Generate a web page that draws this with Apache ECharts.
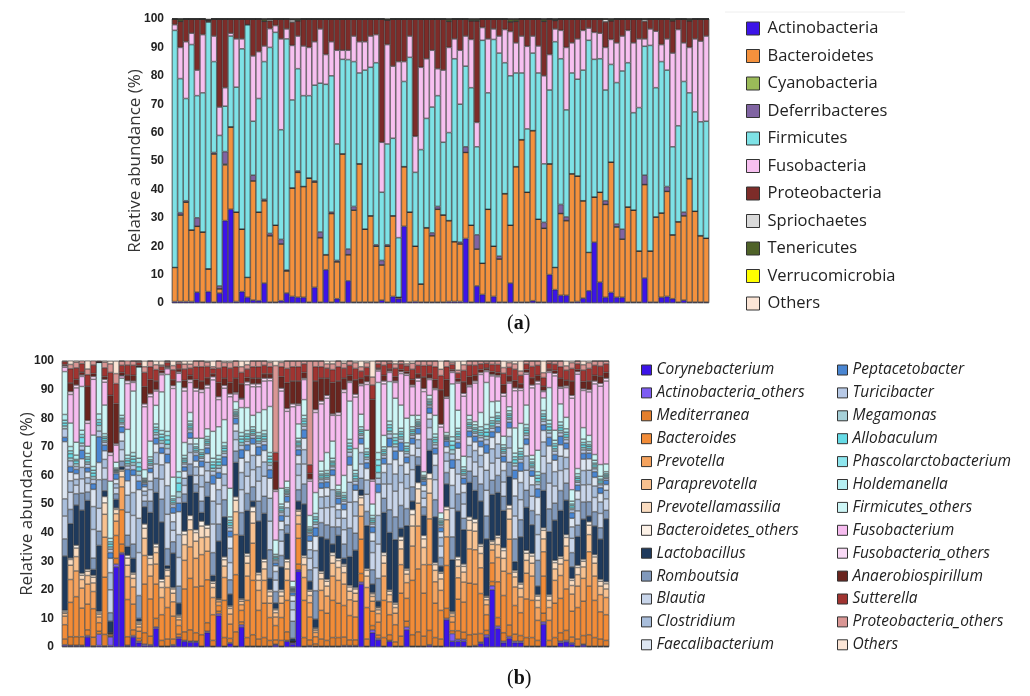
<!DOCTYPE html>
<html><head><meta charset="utf-8">
<script src="https://cdn.jsdelivr.net/npm/echarts/dist/echarts.min.js"></script>
<style>html,body{margin:0;padding:0;background:#fff}#c{width:1030px;height:696px}</style>
</head><body><div id="c"></div>
<script>
const samples = Array.from({length: 96}, (_, i) => 'S' + (i + 1));
const yTicks = [0, 10, 20, 30, 40, 50, 60, 70, 80, 90, 100];

// ---------- Panel (a): phylum level ----------
const actinobacteria = [0.5,0.5,0.5,0.5,3.8,0.3,4,0.3,3.5,29, 33,0.5,4,2,1,0.8,7,0.3,0.3,0.8, 3.5,2.3,2,2,0.3,5.5,0.3,11.7,0.3,1.5, 0.3,7.8,0.3,0.3,0.3,0.3,0.3,1,0.3,2.3, 1.5,27,0.3,0.5,0.3,0.3,0.3,0.3,0.3,0.5, 0.5,0.5,22.7,0.3,6,3,0.3,2.3,0.3,0.3, 7,0.3,0.3,0.3,0.8,0.3,0.3,10,4.7,2.7, 2.7,0.3,0.5,1.7,4.3,21.4,7.3,2,3.7,2, 2,0.3,0.3,0.3,8.8,0.3,0.3,2,2.3,1.5, 0.3,1,0.3,0.3,0.3,0.3];
const bacteroidetes = [12,30.5,35,25.2,23.2,24.7,8,52.2,1.5,19.6, 29,31.5,22,7,42,31.2,29,23.4,27.1,20, 7.8,38.2,44,39,43.7,37.1,22.7,5.3,31.2,13, 52.2,9.2,32.4,48.7,25.7,30.4,19.7,12.4,19.7,28.4, 0.5,21,31.7,19.5,6.4,26.2,23.4,32.7,30.7,28.5, 21.1,20.3,30.3,27.1,13,11,32.7,17.7,15.2,38.2, 20.4,47.7,57.2,38.7,59.9,29.2,26,39,7.8,28.8, 26.3,45.2,44.2,34.3,13.5,15.9,31.7,32.7,45.9,24.8, 20.5,33.5,32.4,18,32.9,18,30,29.7,37,22.5, 28.3,29.7,43.5,32,23.4,22.5];
const cyanobacteria = [0,0,0,0,0,0,0,0,0,0.3, 0,0,0,0,0,0,0,0,0,0, 0,0,0,0,0,0,0,0,0,0, 0,0,0,0,0,0,0,0,0,0, 0,0,0,0,0,0,0,0,0,0, 0,0,0,0,0,0,0,0,0,0, 0,0,0,0,0,0,0,0,0,0, 0,0,0,0,0,0,0,0,0,0, 0,0,0,0,0,0,0,0,0,0, 0,0,0,0,0,0];
const deferribacteres = [0,0.8,0.5,0,3,0,0,0.5,1,4.4, 0,0,0,0,2,0,0.5,0.8,0,1.6, 0.3,0,0.5,0,0,0.4,2,0,0.5,0.5, 0,2,1.3,0,0,0,0.5,1.6,0.5,0, 0,0,0,0,0,0,1,1,0,0, 0,0.6,2,0,5,0,0,0,1,0, 0,0,0,0,0,0,2.1,0,0,3.2, 1.3,0,0,0,0,0,0,1.3,0,1, 3.5,0,0,0,3.3,0,0,0,1.7,0, 0,1.3,0,0,0,0];
const firmicutes = [83.5,47.2,36,65.3,43,49,87,32,53,16, 32,44,63.5,89,19,40,48.5,65.5,67.9,38.6, 81.4,31,36,32,29,33.7,52.4,60,48,41, 33.3,66.7,51,32,56,52.3,64.1,24,35.5,27.3, 21,30,54.5,26,47.3,38.5,44.3,39,25.6,31, 64.4,48.6,28.4,48.4,31,78.5,41,72.8,71.5,46.1, 52.6,33,23.5,22.3,27.3,51.5,20.6,26,79.5,51.3, 37.7,35.5,34.1,46,74.7,48.5,47,39,34.4,49.8, 55.7,50.8,34.3,50.5,45.4,72.4,45.5,53.3,41,31, 33.8,46,30.2,35,40.1,41.2];
const fusobacteria = [2,11,20,4,9,20.5,0,9,10,6.5, 1,17,3.5,0,23,16.5,5.5,6.6,2.4,32, 3.5,19.2,11.5,17.5,17,15.3,19.1,10.5,12,33, 3.2,3.3,9,11,10,11,9.9,17.6,35,25.4, 62,7,7.5,12.7,29,21,20,9.5,25.4,30, 7,19,10.6,17,8.6,4.5,19,3.7,6,11.7, 15.6,10.6,13,29.1,6,9.5,31,12.5,4.5,10, 22,10.6,14.2,14,4.3,9.5,9,15,8.8,14, 12.3,11.4,24.6,24.2,2.6,5.8,19.9,6,11,33, 33.9,13.6,16,25.7,28.4,30];
const proteobacteria = [2,9.2,8,5,18,5.5,0.7,6,31,24.2, 5,7,7,2,13,11.5,8.7,2.8,2.3,7, 3.5,8.2,5.4,9.5,10,8,3.5,12.5,8,11, 11,11,6,8,8,6,5.5,43.4,8.7,16.6, 15,15,6,41.3,17,14,11,17.5,18,9.2, 7,11,6,6.6,35.8,3,7,3.5,6,3.7, 3.4,7.6,6,9.6,6,9.5,19.2,12.5,3,4, 10,8.4,7,4,3.2,4.7,5,9,6.6,8.4, 6,4,8.4,7,6.2,3.5,4.3,9,7,11.4, 3.7,8.4,9.4,7,7.8,6];
const spirochaetes = [0,0,0,0,0,0,0,0,0,0, 0,0,0,0,0,0,0,0.6,0,0, 0,0.8,0,0,0,0,0,0,0,0, 0,0,0,0,0,0,0,0,0,0, 0,0,0,0,0,0,0,0,0,0, 0,0,0,0,0,0,0,0,0,0, 0,0,0,0,0,0,0,0,0,0, 0,0,0,0,0,0,0,1,0,0, 0,0,0,0,0.8,0,0,0,0,0, 0,0,0,0,0,0];
const tenericutes = [0,0.8,0,0,0,0,0,0,0,0, 0,0,0,0,0,0,0.8,0,0,0, 0,0.3,0.6,0,0,0,0,0,0,0, 0,0,0,0,0,0,0,0,0,0, 0,0,0,0,0,0,0,0,0,0.8, 0,0,0,0.6,0.6,0,0,0,0,0, 1,0.8,0,0,0,0,0.8,0,0.5,0, 0,0,0,0,0,0,0,0,0.6,0, 0,0,0,0,0,0,0,0,0,0.6, 0,0,0.6,0,0,0];
const verrucomicrobia = [0,0,0,0,0,0,0,0,0,0, 0,0,0,0,0,0,0,0,0,0, 0,0,0,0,0,0,0,0,0,0, 0,0,0,0,0,0,0,0,0.3,0, 0,0,0,0,0,0,0,0,0,0, 0,0,0,0,0,0,0,0,0,0, 0,0,0,0,0,0,0,0,0,0, 0,0,0,0,0,0,0,0,0,0, 0,0,0,0,0,0,0,0,0,0, 0,0,0,0,0,0];
const othersA = [0,0,0,0,0,0,0.3,0,0,0, 0,0,0,0,0,0,0,0,0,0, 0,0,0,0,0,0,0,0,0,0, 0,0,0,0,0,0,0,0,0,0, 0,0,0,0,0,0,0,0,0,0, 0,0,0,0,0,0,0,0,0,0, 0,0,0,0,0,0,0,0,0,0, 0,0,0,0,0,0,0,0,0,0, 0,0,0,0,0,0,0,0,0,0, 0,0,0,0,0,0];

const phylaNames = ['Actinobacteria','Bacteroidetes','Cyanobacteria','Deferribacteres','Firmicutes','Fusobacteria','Proteobacteria','Spriochaetes','Tenericutes','Verrucomicrobia','Others'];
const phylaColors = ['#3c14e8','#f4913d','#9bbb59','#8064a2','#7ee2e6','#f7c0f0','#7d2c29','#d9d9d9','#4f6228','#ffff00','#fbe5d6'];
const phylaData = [actinobacteria,bacteroidetes,cyanobacteria,deferribacteres,firmicutes,fusobacteria,proteobacteria,spirochaetes,tenericutes,verrucomicrobia,othersA];

// ---------- Panel (b): genus level ----------
const corynebacterium = [0.3,0.3,0.3,0.3,3.5,0.2,0.5,0.2,0.5,28, 32.5,0.3,3.5,1.5,0.5,0.5,6.5,0.2,0.2,0.5, 3,2,1.7,1.7,0.2,5,0.2,11,0.2,1.2, 0.2,7,0.2,0.2,0.2,0.2,0.2,0.7,0.2,2, 1,26.5,0.2,0.3,0.2,0.2,0.2,0.2,0.2,0.3, 0.3,0.3,22,0.2,5,2.5,0.2,2,0.2,0.2, 6,0.2,0.2,0.2,0.5,0.2,0.2,9.5,2,2, 2,0.2,0.3,1.3,3.5,20,6.5,1.5,3,1.5, 1.5,0.2,0.2,0.2,8,0.2,0.2,1.5,1.8,1, 0.2,0.7,0.2,0.2,0.2,0.2];
const actinobacteriaOthers = [0.5,0.3,0.3,0.3,0.5,0.2,4,0.2,3,1, 0.5,0.3,0.5,0.5,0.5,0.3,0.5,0.1,0.1,0.3, 0.5,0.3,0.3,0.3,0.1,0.5,0.1,0.7,0.1,0.3, 0.1,0.8,0.1,0.1,0.1,0.1,0.1,0.3,0.1,0.3, 0.5,0.5,0.1,0.2,0.1,0.1,0.1,0.1,0.1,0.2, 0.2,0.2,0.7,0.1,1,0.5,0.1,0.3,0.1,0.1, 1,0.1,0.1,0.1,0.3,0.1,0.1,0.5,2.7,0.7, 0.7,0.1,0.2,0.4,0.8,1.4,0.8,0.5,0.7,0.5, 0.5,0.1,0.1,0.1,0.8,0.1,0.1,0.5,0.5,0.5, 0.1,0.3,0.1,0.1,0.1,0.1];
const mediterranea = [2,3,3,3,2,3,1,4,0.3,2, 3,3,2,1,4,3,3,2,2.5,2, 1,3,4,3,4,3,2,0.8,3,1.5, 5,1,3,4,2.5,3,2,1.5,2,3, 0.1,2,3,2,0.8,2.5,2,3,3,3, 2,2,3,2.5,1.5,1.2,3,2,1.5,3.5, 2,4,5,3.5,5,3,2.5,3.5,1,3, 2.5,4,4,3,1.5,1.5,3,3,4,2.5, 2,3,3,2,3,2,3,3,3.5,2, 2.5,3,4,3,2.5,2];
const bacteroides = [5,12,14,10,9,10,3,20,0.5,8, 12,13,9,2.5,17,13,12,9,11,8, 3,15,18,16,17,15,9,2,13,5, 20,4,13,19,10,12,8,5,8,11, 0.2,9,13,8,2.5,10,9.5,13,12,11, 8.5,8,12,11,5,4.5,13,7,6,15, 8,19,22,15,23,12,10,15,3,11, 10.5,18,17.5,14,5.5,6.5,12.5,13,18,10, 8,13.5,13,7,13,7,12,12,14.5,9, 11,12,17,13,9.5,9];
const prevotella = [3,8,9,7,7,6,2,14,0.3,5, 8,8,6,1.5,10,8,7,6,7,5, 2,10,11,10,11,10,6,1.3,8,3.5, 14,2,8.5,13,7,8,5,3,5,7, 0.1,5,8,5,1.5,7,6,8.5,8,7.5, 5.5,5.5,8,7,3.5,3,8.5,4.5,4,10, 5.5,12,15,10,16,7.5,7,10,2,7.5, 7,12,12,9,3.5,4.5,8.5,8.5,12,6.5, 5.5,9,8.5,4.5,8.5,4.5,8,8,10,6, 7.5,8,12,8.5,6,6];
const paraprevotella = [1,5,5,3,3,3,1,8,0.2,2.6, 3.5,4,3,1,6,4,4,3.5,4,3, 1,5.5,6,6,6,5,3.5,0.7,4,2, 8,1.2,4.5,7,3.5,4,2.5,1.5,2.5,4, 0.1,3,4.5,2.5,0.8,4,3.5,4.5,4.5,4, 3,2.8,4,4,1.7,1.3,4.5,2.5,2,5.5, 3,7,8,6,9,4,4,6,1,4, 3.5,6.5,6.5,5,1.7,2,4.5,4.5,7,3.5, 3,4.5,4.5,2.5,4.5,2.5,4,4,5,3, 4,4,6,4.5,3,3];
const prevotellamassilia = [0.5,2,3,1.5,1.5,2,0.5,4,0.1,1.5, 2,2.5,1.5,0.5,3.5,2.2,2,2,2,1.5, 0.5,3.5,3.5,3,4,3,1.5,0.3,2.2,0.7, 4,0.7,2.5,4,2,2.5,1.5,1,1.5,2.5, 0,1.5,2.5,1.5,0.5,2,1.7,2.7,2.4,2.3, 1.5,1.5,2.5,2,0.9,0.7,2.7,1.2,1.2,3, 1.4,4,5,3,5,2,2,3.5,0.5,2.3, 2,3.5,3,2.5,0.9,1,2.4,2.7,3.6,1.7, 1.5,2.5,2.5,1.5,3,1.5,2.2,2,3,1.8, 2.5,2,3.3,2.2,1.7,1.8];
const bacteroidetesOthers = [0.5,0.5,1,0.7,0.7,0.7,0.5,2.2,0.1,0.5, 0.5,1,0.5,0.5,1.5,1,1,0.9,0.6,0.5, 0.3,1.2,1.5,1,1.7,1.1,0.7,0.2,1,0.3, 1.2,0.3,0.9,1.7,0.7,0.9,0.7,0.4,0.7,0.9, 0,0.5,0.7,0.5,0.3,0.7,0.7,1,0.8,0.7, 0.6,0.5,0.8,0.6,0.4,0.3,1,0.5,0.5,1.2, 0.5,1.7,2.2,1.2,1.9,0.7,0.5,1,0.3,1, 0.8,1.2,1.2,0.8,0.4,0.4,0.8,1,1.3,0.6, 0.5,1,0.9,0.5,0.9,0.5,0.8,0.7,1,0.7, 0.8,0.7,1.2,0.8,0.7,0.7];
const lactobacillus = [19,12,14,22,24,2,23,2,4,3, 1,3,5,1,6,15,18,20,1,12, 4,10,14,13,3,10,2,20,14,4, 12,22,15,2,18,16,4,2,8,9, 1,3,18,3,3,12,14,3,8,2, 10,13,2,15,3,2,14,20,22,3, 15,3,6,7,8,16,2,8,18,16, 12,12,10,15,20,16,15,13,10,3, 16,15,10,3,13,22,14,16,12,4, 10,14,2,10,14,22];
const romboutsia = [6,5,4,6,3,4,5,4,3,2, 2,4,5,8,2,4,5,8,6,4, 6,3,4,3,4,5,8,6,6,5, 4,8,6,5,7,6,10,4,4,3, 6,4,7,4,10,5,5,6,3,5, 10,6,4,5,5,8,5,8,8,8, 6,5,3,3,4,6,3,4,8,6, 4,4,5,6,8,5,6,5,5,8, 6,6,5,9,6,8,6,7,6,5, 4,6,5,5,4,3];
const blautia = [8,6,3,5,3,10,8,4,8,2, 4,8,10,15,2,4,5,7,12,4, 10,3,4,3,5,4,10,7,5,6, 4,8,6,6,7,7,10,4,5,3, 4,5,7,4,8,5,6,7,3,5, 9,6,5,6,6,12,5,9,9,8, 7,6,3,3,4,7,4,4,10,7, 5,5,5,6,9,6,6,5,5,8, 7,7,5,9,6,9,6,7,5,5, 5,6,6,5,5,4];
const clostridium = [6,4,2,4,2,8,10,3,6,1.5, 3,6,8,12,1.5,3,4,5,10,3, 8,2.5,3,3,4,3,8,5,4,5, 3,6,5,5,5,5,8,3,4,3, 3,4,5,3,6,4,4,6,3,4, 7,5,4,5,4,10,4,7,6,6, 5,5,3,2.5,3,5,3,3,8,5, 4,4,4,4,7,5,5,4,4,7, 6,5,4,7,5,7,5,5,4,4, 4,5,5,4,4,3];
const faecalibacterium = [20,3,2,3,2,6,6,3,5,1.5, 3,5,6,10,1.5,3,3,4,8,3, 8,2.5,2,2,3,3,6,4,3,4, 2.5,5,4,4,4,4,7,2,3,2, 2,3,4,3,5,3,3,5,2,3, 6,4,3,4,3,8,3,6,5,5, 4,4,2,2,2,4,2,2,6,4, 3,3,3,3,6,4,4,3,3,6, 4,4,3,6,4,6,4,4,3,3, 3,4,4,3,3,2];
const peptacetobacter = [1.5,2,1.5,3,1.5,2,9,2,2,2, 2,4,2,3,1,1.5,2,2,3,2, 3,1.5,2,2,2,2,3,2,3,2, 2,3,2,2,3,2,3,1,2,2, 1,2,3,2,3,2,2,2,2,2, 3,2,2,2,2,3,2,3,3,3, 2,2,2,1.5,2,2,1.5,2,3,2, 2,2,2,2,3,2,2,2,2,3, 3,2,2,3,2,3,2,3,2,2, 2,2,2,2,2,1.5];
const turicibacter = [3,2,1,1.5,1.2,1.5,2,1,1.2,0.5, 1,1.2,1.5,2,0.5,1,1.2,1.5,2,1, 2,1,1,1,1,1,1.5,1.5,1.2,1.2, 0.7,1.5,1.2,1,1.2,1.2,1.5,0.7,1,0.7, 0.5,1,1.2,0.7,1.2,1,1,1,0.7,1, 1.5,1.2,1,1.2,1,2,1,1.5,1.5,1.2, 1.2,1,0.7,0.5,0.7,1.2,0.7,0.5,2,1.2, 1,1,1,1.2,1.7,1.2,1.2,1,1,1.5, 1.2,1.2,1,1.5,1.2,1.5,1.2,1.2,1.2,1, 1,1.2,1,1,1,0.7];
const megamonas = [1,1,1,1,0.8,1,2,0.6,0.8,0.3, 0.6,0.8,1,1.5,0.3,0.6,0.8,1,1.5,0.6, 2,0.6,0.6,0.6,0.6,0.6,1,1,0.8,0.8, 0.5,1,0.8,0.6,0.8,0.8,1,0.5,0.6,0.5, 0.3,0.6,0.8,0.5,0.8,0.6,0.6,0.6,0.5,0.6, 1,0.8,0.6,0.8,0.6,2,0.6,1,1,0.8, 0.8,0.6,0.5,0.3,0.5,0.8,0.5,0.3,1.5,0.8, 0.6,0.6,0.6,0.8,1.2,0.8,0.8,0.6,0.6,1, 0.8,0.8,0.6,1,0.8,1,0.8,0.8,0.8,0.6, 0.6,0.8,0.6,0.6,0.6,0.5];
const allobaculum = [1,1.5,1,2,1,1.2,1,0.8,1,0.4, 0.8,1,1.2,1.5,0.4,0.8,1,1.2,1.5,0.8, 3,0.8,0.8,0.8,0.8,0.8,1.2,1.2,1,1, 0.6,1.2,1,0.8,1,1,1.2,0.6,0.8,0.6, 0.4,0.8,1,0.6,1,0.8,0.8,0.8,0.6,0.8, 1.2,1,0.8,1,0.8,2.5,0.8,1.2,1.2,1, 1,0.8,0.6,0.4,0.6,1,0.6,0.4,1.5,1, 0.8,0.8,0.8,1,1.4,1,1,0.8,0.8,1.2, 1,1,0.8,1.2,1,1.2,1,1,1,0.8, 0.8,1,0.8,0.8,0.8,0.6];
const phascolarctobacterium = [1,1,0.5,1,0.8,1,1,0.6,0.8,0.3, 0.6,0.8,1,1.5,0.3,0.6,0.8,1,1.5,0.6, 2,0.6,0.6,0.6,0.6,0.6,1,1,0.8,0.8, 0.5,1,0.8,0.6,0.8,0.8,1,0.5,0.6,0.5, 0.3,0.6,0.8,0.5,0.8,0.6,0.6,0.6,0.5,0.6, 1,0.8,0.6,0.8,0.6,2,0.6,1,1,0.8, 0.8,0.6,0.5,0.3,0.5,0.8,0.5,0.3,1.5,0.8, 0.6,0.6,0.6,0.8,1.2,0.8,0.8,0.6,0.6,1, 0.8,0.8,0.6,1,0.8,1,0.8,0.8,0.8,0.6, 0.6,0.8,0.6,0.6,0.6,0.5];
const holdemanella = [2,1.5,1.5,1.5,1.2,1.3,2,1,1.2,0.5, 1,1.2,1.3,1.5,0.5,1,1.2,1.3,1.5,1, 2,1,1,1,1,1,1.3,1.3,1.2,1.2, 0.7,1.3,1.2,1,1.2,1.2,1.3,0.7,1,0.7, 0.5,1,1.2,0.7,1.2,1,1,1,0.7,1, 1.3,1.2,1,1.2,1,2.5,1,1.3,1.3,1.2, 1.2,1,0.7,0.5,0.7,1.2,0.7,0.5,1.5,1.2, 1,1,1,1.2,1.5,1.2,1.2,1,1,1.3, 1.2,1.2,1,1.3,1.2,1.3,1.2,1.2,1.2,1, 1,1.2,1,1,1,0.7];
const firmicutesOthers = [15,8.2,4.5,15.3,2.5,11,18,10,20,2, 13,9,21.5,32,3,5.5,6.5,13.5,19.9,6.6, 31.4,4.5,3,2,4,2.7,9.4,10,8,10, 2.8,8.7,8,4,7,7.3,16.1,5,5.5,2.3, 2,5,5.5,4,7.3,3.5,6.3,6,1.6,6, 13.4,7.6,4.4,6.4,4,24.5,4,13.8,12.5,8.1, 8.6,4,1.5,1.3,1.3,6.5,2.1,1,18.5,6.3, 3.7,1.5,1.1,5,14.7,5.5,4,3,1.4,8.8, 8.7,6.8,1.3,7.5,4.4,11.4,3.5,6.3,4,4, 1.8,4,2.2,2,4.1,2.7];
const fusobacterium = [1.5,10,19,3.5,8,19.5,0,8,9,6, 0.8,16,3,0,22,15.5,5,6,2,31, 3,18,10.5,16.5,16,14.3,18,9.5,11,32, 2.7,3,8,10,9,10,9,17,34,24.4, 61,6.5,7,12,28,20,19,9,24.4,29, 6.5,18,10,16,8,4,18,3.2,5.5,11, 15,10,12,28,5.5,9,30,12,4,9.5, 21,10,13.5,13.3,3.8,9,8.5,14,8.3,13, 11.5,10.8,23.6,23.2,2.2,5.3,19,5.5,10.4,32, 33,13,15.2,24.7,27.4,29];
const fusobacteriaOthers = [0.5,1,1,0.5,1,1,0,1,1,0.5, 0.2,1,0.5,0,1,1,0.5,0.6,0.4,1, 0.5,1.2,1,1,1,1,1.1,1,1,1, 0.5,0.3,1,1,1,1,0.9,0.6,1,1, 1,0.5,0.5,0.7,1,1,1,0.5,1,1, 0.5,1,0.6,1,0.6,0.5,1,0.5,0.5,0.7, 0.6,0.6,1,1.1,0.5,0.5,1,0.5,0.5,0.5, 1,0.6,0.7,0.7,0.5,0.5,0.5,1,0.5,1, 0.8,0.6,1,1,0.4,0.5,0.9,0.5,0.6,1, 0.9,0.6,0.8,1,1,1];
const anaerobiospirillum = [0.5,3,2,1,12,1,0.3,1,20,14, 1,2,2,0.5,6,5,3,0.8,0.5,2, 1,2.5,1.5,3,3,2.5,1,5,2.5,4, 5,5,1.5,2,2,1.5,1.5,10,4,9, 8,8,2,2,10,8,6,11,11,4, 2,5,2,2,28,0.5,2,0.7,1.5,0.7, 0.7,2,1.5,4,1.5,3,12,6,0.5,1, 4,3,2,1,0.7,1,1,3,2,2.5, 1.5,1,2.5,2,1.5,0.7,1,3,2,5, 0.7,2.5,3,2,2.5,2];
const sutterella = [1,5,4,3,4,3,0.5,3,8,7, 2.5,3.5,3.5,1,5,4.5,4,1.5,1.3,3.5, 1.8,4,2.5,4.5,5,4,1.8,5,4,5, 4,4,3,4,4,3,2.5,3,3.5,5, 5,5,3,3,5,4,3.5,4.5,5,3.5, 3.5,4,2.5,3,5,1.5,3.5,2,3,2, 2,3.5,3,4,3,4.5,5,4.5,1.8,2, 4,4,3.5,2,1.7,2.5,2.8,4,3,4, 3,2,4,3.5,3,2,2.2,4,3.5,4.4, 2,4,4.4,3.5,3.5,3];
const proteobacteriaOthers = [0.5,1.5,2,1,2,1.5,0.5,2,3,3.5, 1.5,1.5,1.5,0.5,2,2,1.7,0.5,0.5,1.5, 0.7,1.7,1.4,2,2,1.5,0.7,2.5,1.5,2, 2,2,1.5,2,2,1.5,1.5,30.4,1.5,2.6, 2,2,1,36.3,2,2,1.5,2,2,1.7, 1.5,2,1.5,1.6,2.8,1,1.5,0.8,1.5,1, 0.7,2.1,1.5,1.6,1.5,2,2.2,2,0.7,1, 2,1.4,1.5,1,0.8,1.2,1.2,2,1.6,1.9, 1.5,1,1.9,1.5,1.7,0.8,1.1,2,1.5,2, 1,1.9,2,1.5,1.8,1];
const othersB = [0,1.6,0.5,0,3,0,0,0.5,1,4.4, 0,0,0,0,2,0,1.3,1.4,0,1.6, 0.3,1.1,1.1,0,0,0.4,2,0,0.5,0.5, 0,2,1.3,0,0,0,0.5,1.6,0.5,0, 0,0,0,0,0,0,1,1,0,0.8, 0,0.6,2,0.6,5.6,0,0,0,1,0, 1,0.8,0,0,0,0,2.9,0,0.5,3.2, 1.3,0,0,0,0,0,0,2.3,0.6,1, 3.5,0,0,0,4.1,0,0,0,1.7,0.6, 0,1.3,0.6,0,0,0];

const genusNames = ['Corynebacterium','Actinobacteria_others','Mediterranea','Bacteroides','Prevotella','Paraprevotella','Prevotellamassilia','Bacteroidetes_others','Lactobacillus','Romboutsia','Blautia','Clostridium','Faecalibacterium','Peptacetobacter','Turicibacter','Megamonas','Allobaculum','Phascolarctobacterium','Holdemanella','Firmicutes_others','Fusobacterium','Fusobacteria_others','Anaerobiospirillum','Sutterella','Proteobacteria_others','Others'];
const genusColors = ['#3c14e8','#7d5cf2','#e47f2c','#f28c38','#f5a35e','#f8c18f','#fadcc0','#fcf1e6','#1f3a5c','#8199bb','#c8d5ea','#a9bedb','#dde6f2','#4a86d2','#b7c9e6','#a6d0d8','#66dbe6','#8ee6ee','#b4eff2','#cdf6f6','#f6bcef','#f9d9f6','#6a251f','#a03431','#d99694','#fbe5d6'];
const genusData = [corynebacterium,actinobacteriaOthers,mediterranea,bacteroides,prevotella,paraprevotella,prevotellamassilia,bacteroidetesOthers,lactobacillus,romboutsia,blautia,clostridium,faecalibacterium,peptacetobacter,turicibacter,megamonas,allobaculum,phascolarctobacterium,holdemanella,firmicutesOthers,fusobacterium,fusobacteriaOthers,anaerobiospirillum,sutterella,proteobacteriaOthers,othersB];

const chart = echarts.init(document.getElementById('c'), null, {renderer: 'canvas'});
const series = [];
phylaNames.forEach((n, i) => series.push({
  name: n, type: 'bar', stack: 'a', xAxisIndex: 0, yAxisIndex: 0,
  barCategoryGap: '0%', data: phylaData[i],
  itemStyle: {color: phylaColors[i], borderColor: '#2b2b2b', borderWidth: 0.6},
  emphasis: {disabled: true}
}));
genusNames.forEach((n, i) => series.push({
  name: n, type: 'bar', stack: 'b', xAxisIndex: 1, yAxisIndex: 1,
  barCategoryGap: '0%', data: genusData[i],
  itemStyle: {color: genusColors[i], borderColor: '#2b2b2b', borderWidth: 0.5},
  emphasis: {disabled: true}
}));

const yAxisBase = (gi, gap) => ({
  type: 'value', gridIndex: gi, min: 0, max: 100, interval: 10,
  axisLine: {show: false}, axisTick: {show: false}, splitLine: {show: false},
  axisLabel: {fontFamily: 'Liberation Sans', fontWeight: 'bold', fontSize: 12, color: '#222', margin: 8,
    formatter: v => yTicks.includes(v) ? String(v) : ''},
  name: 'Relative abundance (%)', nameLocation: 'middle', nameGap: gap, nameMoveOverlap: false,
  nameTextStyle: {fontFamily: 'Open Sans', fontSize: 17, color: '#333'}
});
const xAxisBase = gi => ({
  type: 'category', gridIndex: gi, data: samples,
  axisLine: {show: false}, axisTick: {show: false}, axisLabel: {show: false}
});

chart.setOption({
  animation: false,
  backgroundColor: '#fff',
  grid: [
    {left: 172, top: 19, width: 537, height: 284, show: true, borderColor: '#b0b0b0', borderWidth: 1, backgroundColor: 'transparent'},
    {left: 62, top: 361, width: 547, height: 286, show: true, borderColor: '#b0b0b0', borderWidth: 1, backgroundColor: 'transparent'}
  ],
  xAxis: [xAxisBase(0), xAxisBase(1)],
  yAxis: [yAxisBase(0, 28), yAxisBase(1, 26)],
  legend: [
    {data: phylaNames, orient: 'vertical', left: 741, top: 15, itemWidth: 13, itemHeight: 13, itemGap: 10.5,
     icon: 'rect', selectedMode: false, itemStyle: {borderColor: '#333', borderWidth: 1},
     textStyle: {fontFamily: 'Open Sans', fontSize: 16.5, color: '#222', padding: [0, 0, 0, 3]}},
    {data: genusNames.slice(0, 13), orient: 'vertical', left: 636, top: 357, itemWidth: 10, itemHeight: 10, itemGap: 6.9,
     icon: 'rect', selectedMode: false, itemStyle: {borderColor: '#333', borderWidth: 1},
     textStyle: {fontFamily: 'Open Sans', fontStyle: 'italic', fontSize: 15.5, color: '#222'}},
    {data: genusNames.slice(13), orient: 'vertical', left: 832, top: 357, itemWidth: 10, itemHeight: 10, itemGap: 6.9,
     icon: 'rect', selectedMode: false, itemStyle: {borderColor: '#333', borderWidth: 1},
     textStyle: {fontFamily: 'Open Sans', fontStyle: 'italic', fontSize: 15.5, color: '#222'}}
  ],
  graphic: [
    {type: 'line', shape: {x1: 725, y1: 12, x2: 905, y2: 12}, style: {stroke: '#eeeeee', lineWidth: 1}},
    {type: 'text', left: 507, top: 314, style: {text: '{p|(}{b|a}{p|)}', rich: {
      p: {fontFamily: 'Liberation Serif', fontSize: 20, fill: '#111'},
      b: {fontFamily: 'Liberation Serif', fontSize: 20, fontWeight: 'bold', fill: '#111'}}}},
    {type: 'text', left: 507, top: 669, style: {text: '{p|(}{b|b}{p|)}', rich: {
      p: {fontFamily: 'Liberation Serif', fontSize: 20, fill: '#111'},
      b: {fontFamily: 'Liberation Serif', fontSize: 20, fontWeight: 'bold', fill: '#111'}}}}
  ],
  series: series
});
</script>
</body></html>
